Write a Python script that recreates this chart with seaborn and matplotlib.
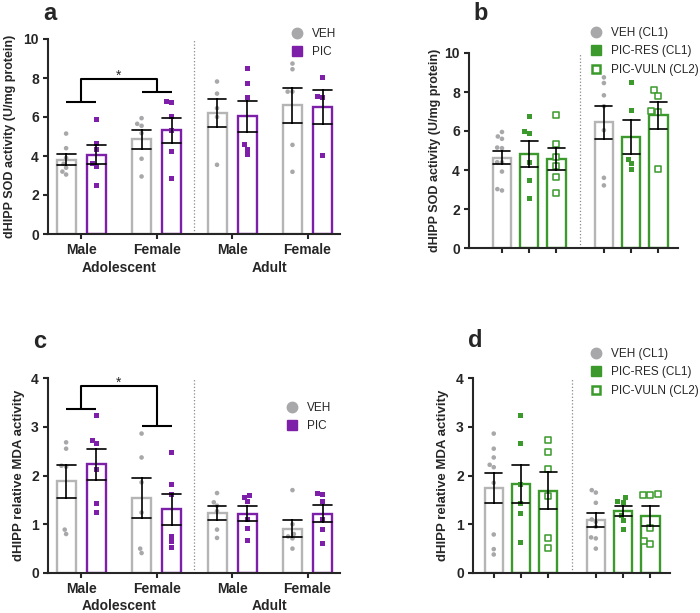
import pandas as pd
import matplotlib
matplotlib.use('Agg')
import matplotlib.pyplot as plt
import matplotlib.transforms as mtransforms
from matplotlib.lines import Line2D
import seaborn as sns

sns.set_style('ticks')
plt.rcParams['font.family'] = ['Liberation Sans', 'DejaVu Sans']
plt.rcParams['font.weight'] = 'bold'
plt.rcParams['axes.linewidth'] = 1.5

GRAY_BAR = '#b5b5b5'
GRAY_PT = '#a8a8aa'
PURPLE = '#7d1fa8'
GREEN = '#3b9a2b'

# groups / labels
sex_groups = ['Adol Male', 'Adol Female', 'Adult Male', 'Adult Female']
sex_ticks = ['Male', 'Female', 'Male', 'Female']
age_groups = ['Adolescent', 'Adult']
treat_sex = ['VEH', 'PIC']
treat_cl = ['VEH (CL1)', 'PIC-RES (CL1)', 'PIC-VULN (CL2)']

# panel a - SOD by sex and age
sod_veh = [[5.15, 4.4, 3.9, 3.6, 3.4, 3.2, 3.05],
           [5.94, 5.65, 5.55, 5.17, 3.86, 2.95],
           [7.82, 7.2, 6.45, 6.0, 3.55],
           [8.74, 8.45, 7.3, 7.3, 4.57, 3.19]]
sod_pic = [[5.85, 4.64, 4.35, 3.62, 3.46, 2.51],
           [6.76, 6.81, 6.02, 5.29, 4.23, 2.83],
           [8.48, 7.73, 7.01, 4.57, 4.35, 4.06],
           [8.05, 7.05, 7.01, 4.03]]

# panel b - SOD by cluster
sod_veh_cl = [[5.95, 5.72, 5.6, 5.15, 5.12, 4.4, 4.4, 3.92, 3.02, 2.95],
              [8.75, 8.46, 7.83, 7.27, 6.04, 3.6, 3.21]]
sod_res_cl = [[6.76, 5.99, 5.85, 4.37, 3.48, 2.53],
              [8.5, 7.06, 4.54, 4.33, 4.03]]
sod_vuln_cl = [[6.81, 5.31, 4.68, 4.23, 3.63, 2.83],
               [8.09, 7.78, 7.05, 7.0, 4.06]]

# panel c - MDA by sex and age
mda_veh = [[2.68, 2.55, 2.2, 2.18, 0.89, 0.8],
           [2.86, 2.37, 1.86, 1.24, 0.5, 0.41],
           [1.64, 1.45, 1.38, 1.27, 0.89, 0.72],
           [1.7, 1.0, 0.8, 0.75, 0.71, 0.5]]
mda_pic = [[3.24, 2.71, 2.65, 2.13, 1.42, 1.24],
           [2.48, 1.81, 1.61, 0.75, 0.64, 0.53],
           [1.6, 1.55, 1.46, 1.09, 0.92, 0.66],
           [1.63, 1.61, 1.46, 1.09, 0.9, 0.6]]

# panel d - MDA by cluster
mda_veh_cl = [[2.86, 2.55, 2.37, 2.22, 2.17, 1.85, 0.79, 0.49, 0.38],
              [1.70, 1.65, 1.44, 1.1, 1.05, 0.95, 0.73, 0.71, 0.5]]
mda_res_cl = [[3.24, 2.65, 1.82, 1.43, 1.23, 0.62],
              [1.54, 1.47, 1.45, 1.17, 1.07, 0.9]]
mda_vuln_cl = [[2.72, 2.48, 2.13, 1.58, 0.72, 0.52],
               [1.63, 1.61, 1.6, 0.93, 0.66, 0.59]]


def to_long(groups, treats, values):
    rows = []
    for t, per_group in zip(treats, values):
        for g, vals in zip(groups, per_group):
            for v in vals:
                rows.append((g, t, v))
    return pd.DataFrame(rows, columns=['group', 'treat', 'value'])


W, H = 700, 613
fig = plt.figure(figsize=(W / 100, H / 100), dpi=100)


def px_axes(l, t, r, b):
    return fig.add_axes([l / W, 1 - b / H, (r - l) / W, (b - t) / H])


def draw(ax, df, groups, treats, bar_cols, pt_cols, marks, sizes, hollow, gap):
    sns.barplot(data=df, x='group', y='value', hue='treat', order=groups,
                hue_order=treats, palette=bar_cols, fill=False, saturation=1,
                errorbar='se', capsize=0.5, linewidth=1.7, gap=gap,
                err_kws={'color': 'black', 'linewidth': 1.2},
                legend=False, ax=ax)
    for t in treats:
        n0 = len(ax.collections)
        sns.swarmplot(data=df[df.treat == t], x='group', y='value', hue='treat',
                      order=groups, hue_order=treats, palette=pt_cols, dodge=True,
                      marker=marks[t], size=sizes[t], linewidth=0, legend=False,
                      ax=ax, zorder=1.5)
        if t in hollow:
            for c in ax.collections[n0:]:
                c.set_facecolor('white')
                c.set_edgecolor(GREEN)
                c.set_linewidth(1.1)
    centers = sorted(p.get_x() + p.get_width() / 2 for p in ax.patches)
    sns.despine(ax=ax)
    ax.set_xlabel('')
    ax.tick_params(axis='both', which='major', length=3.6, width=1.5,
                   labelsize=10, pad=3)
    return centers


def bracket(ax, centers, y_left, y_right, y_top, star_y):
    kw = dict(color='black', lw=1.5, clip_on=False, solid_capstyle='butt')
    ax.plot([centers[0], centers[1]], [y_left, y_left], **kw)
    ax.plot([centers[2], centers[3]], [y_right, y_right], **kw)
    ax.plot([0, 0, 1, 1], [y_left, y_top, y_top, y_right], **kw)
    ax.text(0.5, star_y, '*', ha='center', va='center', fontsize=10,
            fontweight='normal')


def legend(ax, handles, labels, left, top):
    ax.legend(handles, labels, loc='upper left',
              bbox_to_anchor=(left / W, 1 - top / H), bbox_transform=fig.transFigure,
              frameon=False, borderpad=0, borderaxespad=0, handlelength=1.0,
              handletextpad=0.75, labelspacing=0.55,
              prop={'size': 8.5, 'weight': 'normal'})


sex_bar_cols = {'VEH': GRAY_BAR, 'PIC': PURPLE}
sex_pt_cols = {'VEH': GRAY_PT, 'PIC': PURPLE}
sex_marks = {'VEH': 'o', 'PIC': 's'}
sex_sizes = {'VEH': 3.3, 'PIC': 3.6}
cl_bar_cols = {treat_cl[0]: GRAY_BAR, treat_cl[1]: GREEN, treat_cl[2]: GREEN}
cl_pt_cols = {treat_cl[0]: GRAY_PT, treat_cl[1]: GREEN, treat_cl[2]: GREEN}
cl_marks = {treat_cl[0]: 'o', treat_cl[1]: 's', treat_cl[2]: 's'}
cl_sizes = {treat_cl[0]: 3.3, treat_cl[1]: 3.6, treat_cl[2]: 4.0}

sex_handles = [Line2D([0], [0], marker='o', ls='none', color=GRAY_PT, markersize=7.5),
               Line2D([0], [0], marker='s', ls='none', color=PURPLE, markersize=6.8)]
cl_handles = [Line2D([0], [0], marker='o', ls='none', color=GRAY_PT, markersize=7.5),
              Line2D([0], [0], marker='s', ls='none', color=GREEN, markersize=6.8),
              Line2D([0], [0], marker='s', ls='none', markerfacecolor='white',
                     markeredgecolor=GREEN, markeredgewidth=1.8, markersize=6.3)]


def sex_panel(ax, df, ylim, yticks, ylabel, label_size, label_x, group_y):
    centers = draw(ax, df, sex_groups, treat_sex, sex_bar_cols, sex_pt_cols,
                   sex_marks, sex_sizes, [], 0.37)
    ax.set_xlim(-0.44, 3.43)
    ax.set_ylim(*ylim)
    ax.set_yticks(yticks)
    ax.set_xticks(range(4))
    ax.set_xticklabels(sex_ticks)
    ax.axvline(1.5, color='#8a8a8a', ls=':', lw=0.9)
    ax.set_ylabel(ylabel, fontsize=label_size, fontweight='bold')
    ax.yaxis.set_label_coords(label_x, 0.5)
    trans = mtransforms.blended_transform_factory(ax.transData, ax.transAxes)
    for x, name in zip([0.5, 2.5], age_groups):
        ax.text(x, group_y, name, transform=trans, ha='center', va='center',
                fontsize=10, fontweight='bold')
    return centers


def cl_panel(ax, df, xlim, ylim, yticks, ylabel, label_size, label_x, pad):
    centers = draw(ax, df, age_groups, treat_cl, cl_bar_cols, cl_pt_cols,
                   cl_marks, cl_sizes, [treat_cl[2]], 0.32)
    ax.set_xlim(*xlim)
    ax.set_ylim(*ylim)
    ax.set_yticks(yticks)
    ax.set_xticks(centers)
    ax.set_xticklabels([])
    ax.set_xticks([0, 1], minor=True)
    ax.set_xticklabels(age_groups, minor=True)
    ax.tick_params(axis='x', which='minor', length=0, pad=pad, labelsize=10)
    ax.axvline(0.5, color='#8a8a8a', ls=':', lw=0.9)
    ax.set_ylabel(ylabel, fontsize=label_size, fontweight='bold')
    ax.yaxis.set_label_coords(label_x, 0.5)
    return centers


# a
ax_a = px_axes(48, 39, 340, 234)
cen = sex_panel(ax_a, to_long(sex_groups, treat_sex, [sod_veh, sod_pic]),
                (0, 10), range(0, 11, 2), 'dHIPP SOD activity (U/mg protein)',
                9, -0.11, -0.174)
bracket(ax_a, cen, 6.76, 7.27, 7.94, 8.1)
legend(ax_a, sex_handles, treat_sex, 291, 28)

# b
ax_b = px_axes(469, 53, 678, 248)
cl_panel(ax_b, to_long(age_groups, treat_cl, [sod_veh_cl, sod_res_cl, sod_vuln_cl]),
         (-0.59, 1.46), (0, 10), range(0, 11, 2),
         'dHIPP SOD activity (U/mg protein)', 9, -0.135, 9.4)
legend(ax_b, cl_handles, treat_cl, 590, 27)

# c
ax_c = px_axes(48, 378, 340, 573)
cen = sex_panel(ax_c, to_long(sex_groups, treat_sex, [mda_veh, mda_pic]),
                (0, 4), range(0, 5), 'dHIPP relative MDA activity',
                9.5, -0.079, -0.169)
bracket(ax_c, cen, 3.37, 3.02, 3.83, 3.9)
legend(ax_c, sex_handles, treat_sex, 286, 402)

# d
ax_d = px_axes(473, 378, 670, 573)
cl_panel(ax_d, to_long(age_groups, treat_cl, [mda_veh_cl, mda_res_cl, mda_vuln_cl]),
         (-0.47, 1.46), (0, 4), range(0, 5),
         'dHIPP relative MDA activity', 9.5, -0.122, 8.6)
legend(ax_d, cl_handles, treat_cl, 590, 348)

for x, y, s in [(43, 20, 'a'), (473, 20, 'b'), (33, 348, 'c'), (468, 347, 'd')]:
    fig.text(x / W, 1 - y / H, s, fontsize=17, fontweight='bold', va='baseline')

fig.savefig('out.png', dpi=100)
